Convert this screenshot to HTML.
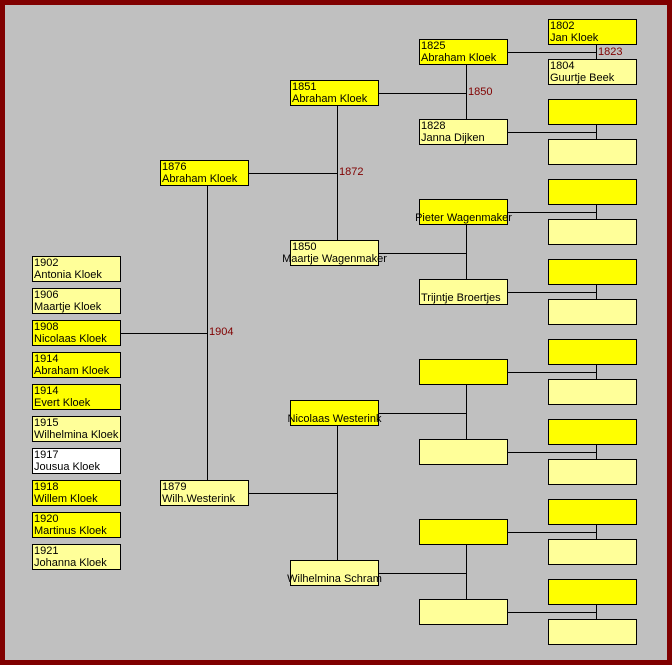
<!DOCTYPE html>
<html><head><meta charset="utf-8"><style>
html,body{margin:0;padding:0}
body{width:672px;height:665px;position:relative;overflow:hidden;background:#800000;font-family:"Liberation Sans",Arial,sans-serif}
#bg{position:absolute;left:5px;top:5px;width:662px;height:655px;background:#c0c0c0}
.b{position:absolute;box-sizing:border-box;width:89px;height:26px;border:1px solid #000;font-size:11px;line-height:12px;padding-left:1px;color:#000;white-space:nowrap}
.y{background:#ffff00}.l{background:#ffff99}.w{background:#fff}
.c{overflow:visible;text-align:center;padding:0}
.c span{position:absolute;left:-10px;right:-10px;top:12px;text-align:center}
.t{position:absolute;font-size:11px;color:#800000;line-height:12px}
svg{position:absolute;left:0;top:0}
</style></head><body>
<div id="bg"></div>
<svg width="672" height="665"><g stroke="#000" stroke-width="1" shape-rendering="crispEdges">
<path d="M508 52.5H596M596.5 45V59 M508 132.5H596M596.5 125V139 M508 212.5H596M596.5 205V219 M508 292.5H596M596.5 285V299 M508 372.5H596M596.5 365V379 M508 452.5H596M596.5 445V459 M508 532.5H596M596.5 525V539 M508 612.5H596M596.5 605V619"/>
<path d="M379 93.5H466M466.5 65V119 M379 253.5H466M466.5 225V279 M379 413.5H466M466.5 385V439 M379 573.5H466M466.5 545V599"/>
<path d="M249 173.5H337M337.5 106V240 M249 493.5H337M337.5 426V560"/>
<path d="M121 333.5H207M207.5 186V480"/>
</g></svg>
<div class="t" style="left:598px;top:46px">1823</div>
<div class="t" style="left:468px;top:86px">1850</div>
<div class="t" style="left:339px;top:166px">1872</div>
<div class="t" style="left:209px;top:326px">1904</div>

<div class="b y" style="left:548px;top:19px">1802<br>Jan Kloek</div>
<div class="b l" style="left:548px;top:59px">1804<br>Guurtje Beek</div>
<div class="b y" style="left:548px;top:99px"></div>
<div class="b l" style="left:548px;top:139px"></div>
<div class="b y" style="left:548px;top:179px"></div>
<div class="b l" style="left:548px;top:219px"></div>
<div class="b y" style="left:548px;top:259px"></div>
<div class="b l" style="left:548px;top:299px"></div>
<div class="b y" style="left:548px;top:339px"></div>
<div class="b l" style="left:548px;top:379px"></div>
<div class="b y" style="left:548px;top:419px"></div>
<div class="b l" style="left:548px;top:459px"></div>
<div class="b y" style="left:548px;top:499px"></div>
<div class="b l" style="left:548px;top:539px"></div>
<div class="b y" style="left:548px;top:579px"></div>
<div class="b l" style="left:548px;top:619px"></div>

<div class="b y" style="left:419px;top:39px">1825<br>Abraham Kloek</div>
<div class="b l" style="left:419px;top:119px">1828<br>Janna Dijken</div>
<div class="b y c" style="left:419px;top:199px"><span>Pieter Wagenmaker</span></div>
<div class="b l" style="left:419px;top:279px"><br>Trijntje Broertjes</div>
<div class="b y" style="left:419px;top:359px"></div>
<div class="b l" style="left:419px;top:439px"></div>
<div class="b y" style="left:419px;top:519px"></div>
<div class="b l" style="left:419px;top:599px"></div>

<div class="b y" style="left:290px;top:80px">1851<br>Abraham Kloek</div>
<div class="b l c" style="left:290px;top:240px;text-align:left;padding-left:1px">1850<span>Maartje Wagenmaker</span></div>
<div class="b y c" style="left:290px;top:400px"><span>Nicolaas Westerink</span></div>
<div class="b l c" style="left:290px;top:560px"><span>Wilhelmina Schram</span></div>

<div class="b y" style="left:160px;top:160px">1876<br>Abraham Kloek</div>
<div class="b l" style="left:160px;top:480px">1879<br>Wilh.Westerink</div>

<div class="b l" style="left:32px;top:256px">1902<br>Antonia Kloek</div>
<div class="b l" style="left:32px;top:288px">1906<br>Maartje Kloek</div>
<div class="b y" style="left:32px;top:320px">1908<br>Nicolaas Kloek</div>
<div class="b y" style="left:32px;top:352px">1914<br>Abraham Kloek</div>
<div class="b y" style="left:32px;top:384px">1914<br>Evert Kloek</div>
<div class="b l" style="left:32px;top:416px">1915<br>Wilhelmina Kloek</div>
<div class="b w" style="left:32px;top:448px">1917<br>Jousua Kloek</div>
<div class="b y" style="left:32px;top:480px">1918<br>Willem Kloek</div>
<div class="b y" style="left:32px;top:512px">1920<br>Martinus Kloek</div>
<div class="b l" style="left:32px;top:544px">1921<br>Johanna Kloek</div>
</body></html>
